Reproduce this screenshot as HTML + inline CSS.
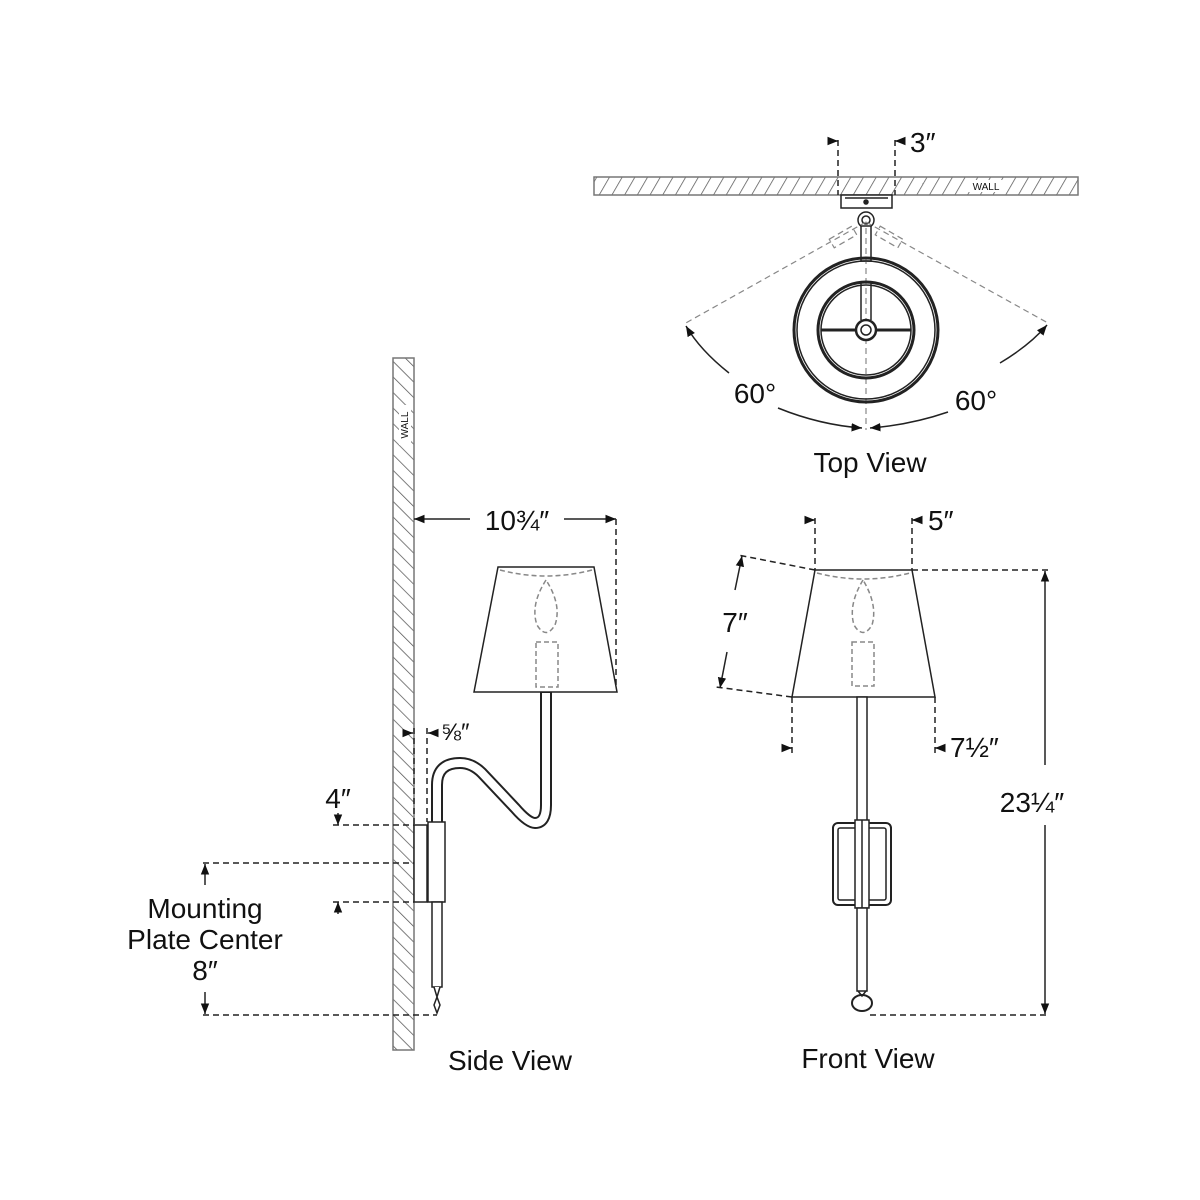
<!DOCTYPE html>
<html><head><style>html,body{margin:0;padding:0;background:#fff}svg{display:block}text{font-family:"Liberation Sans",sans-serif;fill:#111}</style></head>
<body>
<svg width="1200" height="1200" viewBox="0 0 1200 1200" xmlns="http://www.w3.org/2000/svg">
<defs>
<pattern id="h" width="11" height="11" patternUnits="userSpaceOnUse" patternTransform="rotate(30)">
<line x1="0" y1="0" x2="0" y2="11" stroke="#555" stroke-width="1.5"/>
</pattern>
<pattern id="h2" width="11" height="11" patternUnits="userSpaceOnUse" patternTransform="rotate(-45)">
<line x1="0" y1="0" x2="0" y2="11" stroke="#555" stroke-width="1.5"/>
</pattern>
<marker id="a" viewBox="0 0 10 10" refX="10" refY="5" markerWidth="7" markerHeight="7" orient="auto-start-reverse"><path d="M0,1 L10,5 L0,9 z" fill="#111"/></marker>
</defs>
<g stroke="#222" fill="none" stroke-width="1.5">
<!-- TOP VIEW -->
<rect x="594" y="177" width="484" height="18" fill="url(#h)" stroke="#777"/>
<rect x="968" y="180" width="36" height="12" fill="#fff" stroke="none"/>
<text x="986" y="190" font-size="10" fill="#777" stroke="none" text-anchor="middle">WALL</text>
<g stroke-dasharray="6,4"><line x1="838" y1="140" x2="838" y2="195"/><line x1="895" y1="140" x2="895" y2="195"/></g>
<line x1="828" y1="141" x2="838" y2="141" marker-end="url(#a)"/><line x1="905" y1="141" x2="895" y2="141" marker-end="url(#a)"/>
<rect x="841" y="195" width="51" height="13" fill="#fff"/>
<line x1="845" y1="198" x2="888" y2="198"/>
<circle cx="866" cy="202" r="2" fill="#222"/>
<circle cx="866" cy="220" r="8" fill="#fff"/><circle cx="866" cy="220" r="4"/>
<rect x="861" y="226" width="10" height="35" fill="#fff"/>
<g stroke="#888" stroke-dasharray="6,4" stroke-width="1.2">
<line x1="866" y1="222" x2="684" y2="324"/><line x1="866" y1="222" x2="1048" y2="323"/>
<line x1="866" y1="228" x2="866" y2="430"/>
<rect x="830" y="232" width="26" height="10" transform="rotate(-30 843 237)"/>
<rect x="876" y="232" width="26" height="10" transform="rotate(30 889 237)"/>
</g>
<circle cx="866" cy="330" r="72" stroke-width="3"/><circle cx="866" cy="330" r="69"/>
<circle cx="866" cy="330" r="48" stroke-width="3"/><circle cx="866" cy="330" r="45"/>
<line x1="861" y1="282" x2="861" y2="320"/><line x1="871" y1="282" x2="871" y2="320"/>
<line x1="821" y1="330" x2="911" y2="330" stroke-width="3"/>
<circle cx="866" cy="330" r="10" fill="#fff" stroke-width="2.5"/><circle cx="866" cy="330" r="5"/>
<path d="M729,373 Q700,350 686,326" marker-end="url(#a)"/>
<path d="M1000,363 Q1030,345 1047,325" marker-end="url(#a)"/>
<path d="M778,408 Q820,425 862,428" marker-end="url(#a)"/>
<path d="M948,412 Q910,425 870,428" marker-end="url(#a)"/>
<!-- SIDE VIEW -->
<rect x="393" y="358" width="21" height="692" fill="url(#h2)" stroke="#777"/>
<line x1="414" y1="519" x2="470" y2="519" marker-start="url(#a)"/><line x1="564" y1="519" x2="616" y2="519" marker-end="url(#a)"/>
<line x1="616" y1="519" x2="616" y2="692" stroke-dasharray="6,4"/>
<path d="M498,567 L594,567 L617,692 L474,692 Z" fill="#fff"/>
<g stroke="#888" stroke-dasharray="5,3"><path d="M500,570 Q546,582 592,570"/><path d="M546,580 Q530,605 537,625 Q546,640 555,625 Q562,605 546,580"/><rect x="536" y="642" width="22" height="45"/></g>
<path d="M437,824 L437,785 Q437,763 460,763 Q472,763 482,773 L515,808 Q528,823 535,823 Q546,823 546,805 L546,692" stroke="#222" stroke-width="12"/>
<path d="M437,824 L437,785 Q437,763 460,763 Q472,763 482,773 L515,808 Q528,823 535,823 Q546,823 546,805 L546,693" stroke="#fff" stroke-width="8"/>
<rect x="414" y="825" width="13" height="77" fill="#fff"/>
<rect x="428" y="822" width="17" height="80" fill="#fff"/>
<rect x="432" y="902" width="10" height="85" fill="#fff"/>
<path d="M434,987 L437,997 L440,987 M437,997 L434,1005 L437,1013 L440,1005 Z" fill="#fff"/>
<g stroke-dasharray="6,4">
<line x1="333" y1="825" x2="414" y2="825"/><line x1="333" y1="902" x2="414" y2="902"/>
<line x1="203" y1="863" x2="414" y2="863"/><line x1="203" y1="1015" x2="437" y2="1015"/>
<line x1="414" y1="728" x2="414" y2="825"/><line x1="427" y1="728" x2="427" y2="822"/>
</g>
<line x1="338" y1="813" x2="338" y2="825" marker-end="url(#a)"/><line x1="338" y1="914" x2="338" y2="902" marker-end="url(#a)"/>
<line x1="205" y1="885" x2="205" y2="864" marker-end="url(#a)"/><line x1="205" y1="992" x2="205" y2="1014" marker-end="url(#a)"/>
<line x1="403" y1="733" x2="413" y2="733" marker-end="url(#a)"/><line x1="438" y1="733" x2="428" y2="733" marker-end="url(#a)"/>
<!-- FRONT VIEW -->
<g stroke-dasharray="6,4">
<line x1="815" y1="518" x2="815" y2="570"/><line x1="912" y1="518" x2="912" y2="570"/>
<line x1="815" y1="570" x2="738" y2="555"/><line x1="792" y1="697" x2="716" y2="687"/>
<line x1="792" y1="697" x2="792" y2="757"/><line x1="935" y1="697" x2="935" y2="757"/>
<line x1="912" y1="570" x2="1050" y2="570"/><line x1="870" y1="1015" x2="1050" y2="1015"/>
</g>
<line x1="805" y1="520" x2="815" y2="520" marker-end="url(#a)"/><line x1="922" y1="520" x2="912" y2="520" marker-end="url(#a)"/>
<line x1="782" y1="748" x2="792" y2="748" marker-end="url(#a)"/><line x1="945" y1="748" x2="935" y2="748" marker-end="url(#a)"/>
<line x1="735" y1="590" x2="742" y2="556" marker-end="url(#a)"/><line x1="727" y1="652" x2="720" y2="688" marker-end="url(#a)"/>
<line x1="1045" y1="765" x2="1045" y2="571" marker-end="url(#a)"/><line x1="1045" y1="825" x2="1045" y2="1014" marker-end="url(#a)"/>
<path d="M815,570 L912,570 L935,697 L792,697 Z" fill="#fff"/>
<g stroke="#888" stroke-dasharray="5,3"><path d="M817,573 Q863,585 910,573"/><path d="M863,580 Q848,605 854,625 Q863,640 872,625 Q878,605 863,580"/><rect x="852" y="642" width="22" height="44"/></g>
<rect x="857" y="697" width="10" height="128" fill="#fff"/>
<rect x="833" y="823" width="58" height="82" rx="5" fill="#fff" stroke-width="2"/>
<rect x="838" y="828" width="48" height="72" rx="2"/>
<rect x="855" y="820" width="14" height="88" fill="#fff"/><line x1="862" y1="820" x2="862" y2="908"/>
<rect x="857" y="908" width="10" height="83" fill="#fff"/>
<ellipse cx="862" cy="1003" rx="10" ry="8" stroke-width="2"/><path d="M858,991 L862,996 L866,991"/>
</g>
<g font-size="28">
<text x="910" y="152" text-anchor="start">3″</text>
<text x="755" y="403" text-anchor="middle">60°</text>
<text x="976" y="410" text-anchor="middle">60°</text>
<text x="870" y="472" text-anchor="middle">Top View</text>
<text x="517" y="530" text-anchor="middle">10¾″</text>
<text x="441" y="740" font-size="24">⅝″</text>
<text x="338" y="808" text-anchor="middle">4″</text>
<text x="205" y="918" text-anchor="middle">Mounting</text>
<text x="205" y="949" text-anchor="middle">Plate Center</text>
<text x="205" y="980" text-anchor="middle">8″</text>
<text x="510" y="1070" text-anchor="middle">Side View</text>
<text x="928" y="530">5″</text>
<text x="735" y="632" text-anchor="middle">7″</text>
<text x="950" y="757">7½″</text>
<rect x="1005" y="780" width="58" height="34" fill="#fff"/>
<text x="1032" y="812" text-anchor="middle">23¼″</text>
<text x="868" y="1068" text-anchor="middle">Front View</text>
</g>
<rect x="399" y="405" width="12" height="40" fill="#fff"/>
<text x="408" y="425" font-size="10" fill="#777" text-anchor="middle" transform="rotate(-90 408 425)">WALL</text>
</svg>
</body></html>
